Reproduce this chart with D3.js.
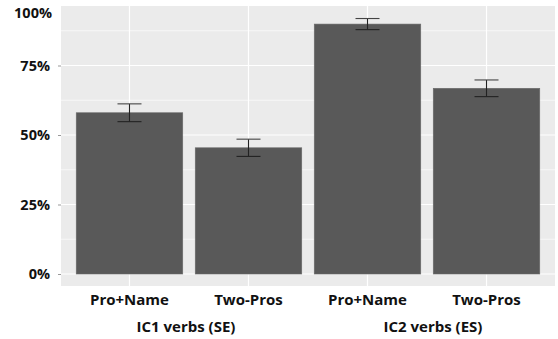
<!DOCTYPE html>
<html><head><meta charset="utf-8">
<script src="https://cdn.jsdelivr.net/npm/d3@7"></script>
<style>body{margin:0;background:#fff}svg{display:block}text{font-family:"Open Sans",sans-serif;font-weight:700;fill:#111}</style>
</head><body><svg id="c" width="558" height="339"></svg>
<script>
const categories = ["Pro+Name","Two-Pros","Pro+Name ","Two-Pros "];
const groups = ["IC1 verbs (SE)","IC2 verbs (ES)"];
const values = [0.58, 0.454, 0.899, 0.668];
const errors = [0.032, 0.031, 0.020, 0.030];
const yTicks = [0, 0.25, 0.5, 0.75, 1];
const yMinor = [0.125, 0.375, 0.625, 0.875];

const svg = d3.select("#c");
const P = {l:61, r:555, t:6, b:286};
const x = d3.scaleBand().domain(categories).range([P.l, P.r]).paddingInner(0.105).paddingOuter(0.128);
const y = d3.scaleLinear().domain([0,1]).range([274,-4]);

svg.append("rect").attr("x",P.l).attr("y",P.t).attr("width",P.r-P.l).attr("height",P.b-P.t).attr("fill","#ebebeb");
svg.append("clipPath").attr("id","pc").append("rect").attr("x",P.l).attr("y",P.t).attr("width",P.r-P.l).attr("height",P.b-P.t);
const g = svg.append("g").attr("clip-path","url(#pc)");
g.selectAll(".mn").data(yMinor).join("line").attr("x1",P.l).attr("x2",P.r).attr("y1",d=>y(d)).attr("y2",d=>y(d)).attr("stroke","#fff").attr("stroke-width",0.6);
g.selectAll(".mj").data(yTicks).join("line").attr("x1",P.l).attr("x2",P.r).attr("y1",d=>y(d)).attr("y2",d=>y(d)).attr("stroke","#fff").attr("stroke-width",1.2);
g.selectAll(".vx").data(categories).join("line").attr("x1",d=>x(d)+x.bandwidth()/2).attr("x2",d=>x(d)+x.bandwidth()/2).attr("y1",P.t).attr("y2",P.b).attr("stroke","#fff").attr("stroke-width",1.2);

g.selectAll(".bar").data(values).join("rect")
 .attr("x",(d,i)=>x(categories[i])).attr("width",x.bandwidth())
 .attr("y",d=>y(d)).attr("height",d=>y(0)-y(d))
 .attr("fill","#595959").attr("stroke","#6a6a6a").attr("stroke-width",0.6);

const eb = g.selectAll(".eb").data(values).join("g");
const cx = i => x(categories[i]) + x.bandwidth()/2;
eb.append("line").attr("x1",(d,i)=>cx(i)).attr("x2",(d,i)=>cx(i)).attr("y1",(d,i)=>y(d+errors[i])).attr("y2",(d,i)=>y(d-errors[i])).attr("stroke","#222").attr("stroke-width",1.1);
eb.append("line").attr("x1",(d,i)=>cx(i)-12).attr("x2",(d,i)=>cx(i)+12).attr("y1",(d,i)=>y(d+errors[i])).attr("y2",(d,i)=>y(d+errors[i])).attr("stroke","#444").attr("stroke-width",1.1);
eb.append("line").attr("x1",(d,i)=>cx(i)-12).attr("x2",(d,i)=>cx(i)+12).attr("y1",(d,i)=>y(d-errors[i])).attr("y2",(d,i)=>y(d-errors[i])).attr("stroke","#222").attr("stroke-width",1.1);

// y axis
const ya = svg.append("g").attr("transform",`translate(${P.l},0)`)
 .call(d3.axisLeft(y).tickValues(yTicks.slice(0,4)).tickFormat(d3.format(".0%")).tickSize(3).tickPadding(8));
ya.select(".domain").remove();
ya.selectAll(".tick line").attr("stroke","#999");
ya.selectAll("text").attr("font-size",14.5).attr("fill","#111");
svg.append("text").attr("x",P.l-9).attr("y",13).attr("dy","0.32em").attr("text-anchor","end").attr("font-size",14.5).text(d3.format(".0%")(yTicks[4]));

// x labels
svg.selectAll(".xl").data(categories).join("text")
 .attr("x",(d,i)=>cx(i)).attr("y",305).attr("text-anchor","middle").attr("font-size",15).text(d=>d.trim());
svg.selectAll(".gl").data(groups).join("text")
 .attr("x",(d,i)=>(cx(2*i)+cx(2*i+1))/2 + (i? 6:-3)).attr("y",332).attr("text-anchor","middle").attr("font-size",15).text(d=>d);
</script></body></html>
